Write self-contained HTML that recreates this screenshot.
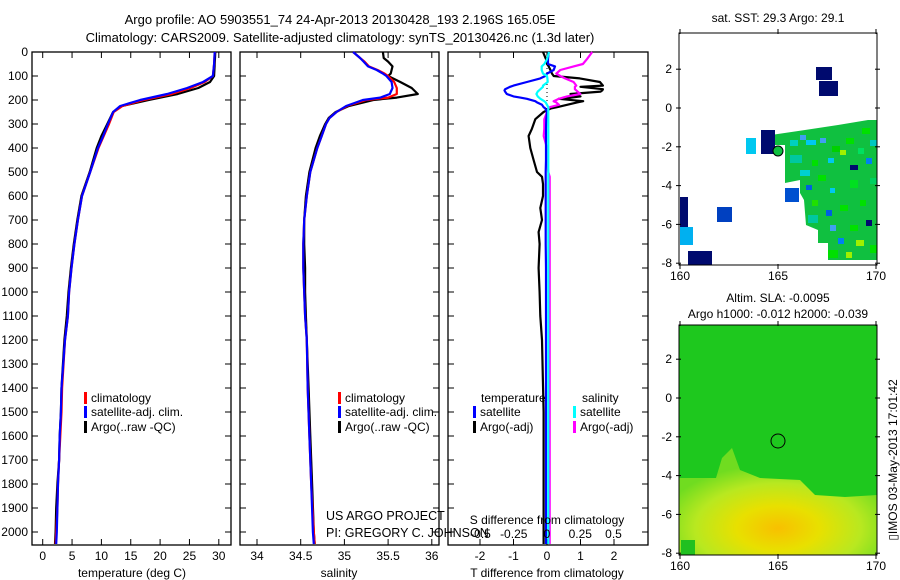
<!DOCTYPE html>
<html><head><meta charset="utf-8"><style>
body{margin:0;background:#fff}
svg{display:block;font-family:"Liberation Sans",sans-serif;font-size:12px}
</style></head><body>
<svg id="s" width="900" height="580" xmlns="http://www.w3.org/2000/svg">
<defs>
<radialGradient id="yel" cx="0.5" cy="0.75" r="0.6">
<stop offset="0" stop-color="#f8c000"/><stop offset="0.35" stop-color="#e8e000"/><stop offset="0.7" stop-color="#b8e820"/><stop offset="1" stop-color="#70dc20"/>
</radialGradient>
</defs>
<text x="340" y="24" text-anchor="middle" font-size="13">Argo profile: AO 5903551_74 24-Apr-2013 20130428_193 2.196S 165.05E</text>
<text x="340" y="42" text-anchor="middle" font-size="13">Climatology: CARS2009. Satellite-adjusted climatology: synTS_20130426.nc (1.3d later)</text>
<g id="g"></g>
</svg>
<script>
// ---- data ----
const depthsT = [0,50,100,125,150,175,200,225,250,300,350,400,500,600,700,800,900,1000,1100,1200,1400,1500,1600,1700,1800,1900,2000,2050];
const tempSat = [29.3,29.2,29.0,27.3,24.6,21.2,16.6,13.2,12.0,11.1,10.3,9.4,8.1,6.7,6.0,5.4,4.9,4.5,4.3,3.8,3.2,3.1,2.9,2.8,2.6,2.5,2.4,2.3];
const tempClim = [29.3,29.2,29.0,27.6,25.2,22.0,17.2,13.6,12.1,11.3,10.4,9.5,8.1,6.7,6.0,5.4,4.9,4.5,4.3,3.8,3.3,3.2,3.0,2.8,2.6,2.5,2.3,2.2];
const tempArgo = [29.4,29.3,29.2,28.5,26.5,23.0,18.0,13.5,12.0,11.0,10.0,9.2,8.0,6.6,5.9,5.3,4.8,4.4,4.1,3.7,3.2,3.1,2.9,2.8,2.5,2.3,2.2,2.1];
const depthsS = [0,25,40,60,75,90,100,125,150,175,190,200,225,250,275,300,350,400,500,600,700,800,900,1000,1100,1200,1400,1600,1800,2000,2050];
const salSat = [35.1,35.18,35.22,35.27,35.37,35.44,35.48,35.54,35.55,35.52,35.41,35.21,35.02,34.91,34.83,34.79,34.74,34.69,34.61,34.57,34.54,34.53,34.53,34.54,34.55,34.57,34.58,34.6,34.62,34.64,34.65];
const salClim = [35.1,35.18,35.23,35.28,35.38,35.46,35.5,35.57,35.6,35.6,35.5,35.25,35.03,34.91,34.83,34.79,34.74,34.69,34.61,34.57,34.54,34.53,34.53,34.54,34.55,34.57,34.58,34.6,34.62,34.65,34.66];
const salArgo = [35.44,35.45,35.5,35.55,35.54,35.53,35.5,35.64,35.77,35.84,35.6,35.33,35.05,34.9,34.82,34.78,34.72,34.67,34.6,34.56,34.54,34.54,34.55,34.55,34.56,34.57,34.59,34.61,34.63,34.65,34.66];
const depthsD = [0,30,50,60,75,90,100,110,125,140,145,155,160,165,175,185,190,195,205,210,220,230,235,250,280,320,350,400,450,500,520,550,600,650,700,750,800,900,1000,1100,1200,1500,2050];
const tdiffSat = [0.05,0.03,0.03,0.24,0.2,0,-0.05,-0.2,-0.6,-1.0,-1.1,-1.25,-1.27,-1.25,-1.2,-1.0,-0.8,-0.6,-0.35,-0.3,-0.15,-0.1,-0.05,0,-0.02,-0.03,-0.03,-0.03,-0.03,-0.04,-0.04,-0.04,-0.04,-0.04,-0.04,-0.04,-0.04,-0.03,-0.03,-0.03,-0.03,-0.03,-0.03];
const tdiffArgo = [-0.12,-0.03,0,0.05,0.1,0.15,0.2,0.98,1.58,1.67,1.0,1.67,1.65,1.6,0.7,1.0,0.7,0.35,1.08,0.9,0.6,0.3,0.12,-0.1,-0.35,-0.45,-0.55,-0.5,-0.4,-0.3,-0.15,-0.12,-0.12,-0.2,-0.15,-0.25,-0.22,-0.25,-0.22,-0.2,-0.15,-0.1,-0.1];
const sdiffSat = [0.015,0,-0.02,-0.04,-0.04,-0.03,0,0.003,0.005,-0.03,-0.03,-0.05,-0.06,-0.07,-0.08,-0.07,-0.06,-0.05,-0.02,-0.01,0,0.01,0.01,0.01,0.01,0.01,0.01,0.01,0.01,0.01,0.01,0.01,0.01,0.01,0.01,0.01,0.01,0.01,0.01,0.01,0.01,0.01,0.01];
const sdiffArgo = [0.34,0.3,0.27,0.2,0.1,0.07,0.1,0.135,0.2,0.22,0.21,0.21,0.22,0.23,0.25,0.15,0.12,0.09,0.05,0.07,0.09,0.02,0.01,0,-0.02,-0.02,-0.025,0,0,0.01,0.02,0.02,0.02,0.02,0.02,0.02,0.02,0.02,0.02,0.02,0.02,0.02,0.02];
const depthTicks = [0,100,200,300,400,500,600,700,800,900,1000,1100,1200,1300,1400,1500,1600,1700,1800,1900,2000];
const tempTicks = [0,5,10,15,20,25,30];
const salTicks = [34,34.5,35,35.5,36];
const tdTicks = [-2,-1,0,1,2];
const sdTicks = [-0.5,-0.25,0,0.25,0.5];
const latTicks = [2,0,-2,-4,-6,-8];
const lonTicks = [160,165,170];

// ---- scales ----
const NS='http://www.w3.org/2000/svg';
const G=document.getElementById('g');
function mk(tag,at,parent){const e=document.createElementNS(NS,tag);for(const k in at)e.setAttribute(k,at[k]);(parent||G).appendChild(e);return e;}
const yD=d=>52+d*0.24;
const xT=t=>42.7+t*5.87;
const xS=s=>257+(s-34)*87.4;
const xTD=t=>547+t*33.5;
const xSD=s=>547+s*133;
const TOP=52,BOT=545;

function panel(x0,x1,name){
  const r=mk('rect',{x:x0,y:TOP,width:x1-x0,height:BOT-TOP,fill:'none',stroke:'#000','stroke-width':1.3});
  
  
  depthTicks.forEach(d=>{
    mk('line',{x1:x0,x2:x0+6,y1:yD(d),y2:yD(d),stroke:'#000'});
    mk('line',{x1:x1,x2:x1-6,y1:yD(d),y2:yD(d),stroke:'#000'});
  });
}
function line(xs,ds,xf,color,name,w){
  const p=ds.map((d,i)=>xf(xs[i]).toFixed(1)+','+yD(d).toFixed(1)).join(' ');
  const e=mk('polyline',{points:p,fill:'none',stroke:color,'stroke-width':w||2.2,'stroke-linejoin':'round'});
  
  
}
function txt(x,y,s,anchor,name,extra){
  const e=mk('text',Object.assign({x:x,y:y,'text-anchor':anchor||'start'},extra||{}));
  e.textContent=s;
  
  
  return e;
}
function xticks(ticks,xf,x0,x1,labY,name){
  ticks.forEach(t=>{
    const x=xf(t);
    mk('line',{x1:x,x2:x,y1:BOT,y2:BOT-6,stroke:'#000'});
    mk('line',{x1:x,x2:x,y1:TOP,y2:TOP+6,stroke:'#000'});
    txt(x,labY,String(t),'middle',name);
  });
}
// panel 1
panel(32,231,'temperature-panel');
depthTicks.forEach(d=>txt(28,yD(d)+4,String(d),'end','depth-tick-label'));
xticks(tempTicks,xT,32,231,560,'temperature-tick-label');
txt(132,577,'temperature (deg C)','middle','temperature-axis-title');
line(tempArgo,depthsT,xT,'#000','temp-argo-line');
line(tempClim,depthsT,xT,'#f00','temp-climatology-line');
line(tempSat,depthsT,xT,'#00f','temp-satellite-line');
// panel 2
panel(240,439,'salinity-panel');
xticks(salTicks,xS,240,439,560,'salinity-tick-label');
txt(339,577,'salinity','middle','salinity-axis-title');
line(salArgo,depthsS,xS,'#000','sal-argo-line');
line(salClim,depthsS,xS,'#f00','sal-climatology-line');
line(salSat,depthsS,xS,'#00f','sal-satellite-line');
// panel 3
panel(448,648,'difference-panel');
tdTicks.forEach(t=>{const x=xTD(t);mk('line',{x1:x,x2:x,y1:BOT,y2:BOT-6,stroke:'#000'});mk('line',{x1:x,x2:x,y1:TOP,y2:TOP+6,stroke:'#000'});txt(x,560,String(t),'middle','t-diff-tick-label');});
mk('line',{x1:547,x2:547,y1:TOP,y2:yD(250),stroke:'#000','stroke-dasharray':'1,3'});
line(tdiffArgo,depthsD,xTD,'#000','tdiff-argo-line');
line(sdiffArgo,depthsD,xSD,'#f0f','sdiff-argo-line');
line(tdiffSat,depthsD,xTD,'#00f','tdiff-satellite-line');
line(sdiffSat,depthsD,xSD,'#0ff','sdiff-satellite-line');
txt(547,524,'S difference from climatology','middle','s-diff-axis-title');
sdTicks.forEach(t=>txt(xSD(t),538,String(t),'middle','s-diff-tick-label'));
txt(547,577,'T difference from climatology','middle','t-diff-axis-title');

// legends
function leg(x,y,color,label,name){
  const r=mk('rect',{x:x,y:y-10,width:3,height:12,fill:color});
  
  
  txt(x+7,y,label,'start',name);
}
leg(84,402,'#f00','climatology','legend-climatology');
leg(84,416,'#00f','satellite-adj. clim.','legend-satellite');
leg(84,431,'#000','Argo(..raw -QC)','legend-argo');
leg(338,402,'#f00','climatology','legend2-climatology');
leg(338,416,'#00f','satellite-adj. clim.','legend2-satellite');
leg(338,431,'#000','Argo(..raw -QC)','legend2-argo');
txt(481,402,'temperature','start','legend3-temperature-header');
txt(582,402,'salinity','start','legend3-salinity-header');
leg(473,416,'#00f','satellite','legend3-t-satellite');
leg(473,431,'#000','Argo(-adj)','legend3-t-argo');
leg(573,416,'#0ff','satellite','legend3-s-satellite');
leg(573,431,'#f0f','Argo(-adj)','legend3-s-argo');
txt(326,520,'US ARGO PROJECT','start','project-label',{'font-size':'12.5'});
txt(326,537,'PI: GREGORY C. JOHNSON','start','pi-label',{'font-size':'12.5'});

// maps
const mx=lon=>680+(lon-160)*19.6;
function mapAxes(top,bot,lat0y,name){
  const my=lat=>lat0y-lat*19.4;
  const r=mk('rect',{x:679,y:top,width:198,height:bot-top,fill:'none',stroke:'#000','stroke-width':1});
  
  
  latTicks.forEach(l=>{const y=my(l);mk('line',{x1:676,x2:681,y1:y,y2:y,stroke:'#000'});mk('line',{x1:875,x2:880,y1:y,y2:y,stroke:'#000'});txt(672,y+4,String(l),'end','map-lat-label');});
  lonTicks.forEach(l=>{const x=mx(l);mk('line',{x1:x,x2:x,y1:top-4,y2:top+1,stroke:'#000'});mk('line',{x1:x,x2:x,y1:bot-1,y2:bot+4,stroke:'#000'});txt(x,bot+15,String(l),'middle','map-lon-label');});
  return my;
}
// SST map
txt(778,22,'sat. SST: 29.3 Argo: 29.1','middle','sst-map-title');
const sst=mk('polygon',{points:'868,120 877,120 877,260 828,260 828,243 818,243 818,230 806,225 804,200 800,193 800,180 785,183 785,145 771,145 771,135 805,130 838,125',fill:'#10c040'});


[[761,130,14,24,'#000a6e'],[746,138,10,16,'#00c8f0'],[816,67,16,13,'#000a6e'],[819,81,19,15,'#000a6e'],[785,188,14,14,'#0050d0'],[717,207,15,15,'#0040c0'],[680,197,8,36,'#000a6e'],[680,227,13,18,'#00b0f0'],[688,251,24,14,'#000a6e'],
 [790,140,8,6,'#00d0c0'],[800,135,6,5,'#40a0f0'],[840,150,6,5,'#a0f000'],[858,148,6,6,'#00e060'],[850,165,8,5,'#000a6e'],
 [806,140,10,5,'#00c8f0'],[820,138,6,5,'#40a0f0'],[832,146,8,6,'#00d000'],[846,138,8,6,'#00e000'],[862,128,8,6,'#00e000'],[870,140,7,6,'#00c8c0'],
 [790,155,12,8,'#00c8a0'],[812,160,6,6,'#00e000'],[828,158,6,5,'#00c8f0'],[866,158,6,6,'#0080f0'],[800,170,10,6,'#00d0d0'],[818,175,8,6,'#00e000'],
 [806,185,6,5,'#0060e0'],[830,188,5,5,'#00c8f0'],[850,180,8,8,'#00e020'],[870,178,7,6,'#00d060'],[812,200,6,6,'#20e000'],[826,210,6,6,'#0060e0'],
 [840,205,8,6,'#00e000'],[860,200,6,6,'#00e000'],[808,215,10,8,'#00c8a0'],[830,225,6,6,'#40a0f0'],[850,225,8,6,'#00e000'],[866,220,6,6,'#000a6e'],
 [838,238,6,6,'#0080f0'],[856,240,8,6,'#a0f000'],[870,245,7,8,'#00e000'],[828,250,10,8,'#00e000'],[846,252,6,6,'#a0f000']].forEach(c=>{
  const e=mk('rect',{x:c[0],y:c[1],width:c[2],height:c[3],fill:c[4]});
  
  
});
mapAxes(33,265,108,'sst-map-frame');
mk('circle',{cx:778,cy:151,r:5,fill:'#10c040',stroke:'#000'});
// SLA map
txt(778,302,'Altim. SLA: -0.0095','middle','sla-map-title-1');
txt(778,318,'Argo h1000: -0.012 h2000: -0.039','middle','sla-map-title-2');
const bg=mk('rect',{x:679,y:325,width:198,height:230,fill:'#1ec81e'});


const yl=mk('polygon',{points:'679,478 716,478 722,458 732,448 740,470 760,478 800,480 815,495 845,497 877,495 877,555 679,555',fill:'url(#yel)'});


mk('rect',{x:681,y:540,width:14,height:15,fill:'#20c020'});
mapAxes(325,555,398,'sla-map-frame');
mk('circle',{cx:778,cy:441,r:7,fill:'none',stroke:'#000'});
txt(0,0,'▯IMOS 03-May-2013 17:01:42','middle','imos-timestamp',{transform:'translate(897,460) rotate(-90)'});
</script>
</body></html>
